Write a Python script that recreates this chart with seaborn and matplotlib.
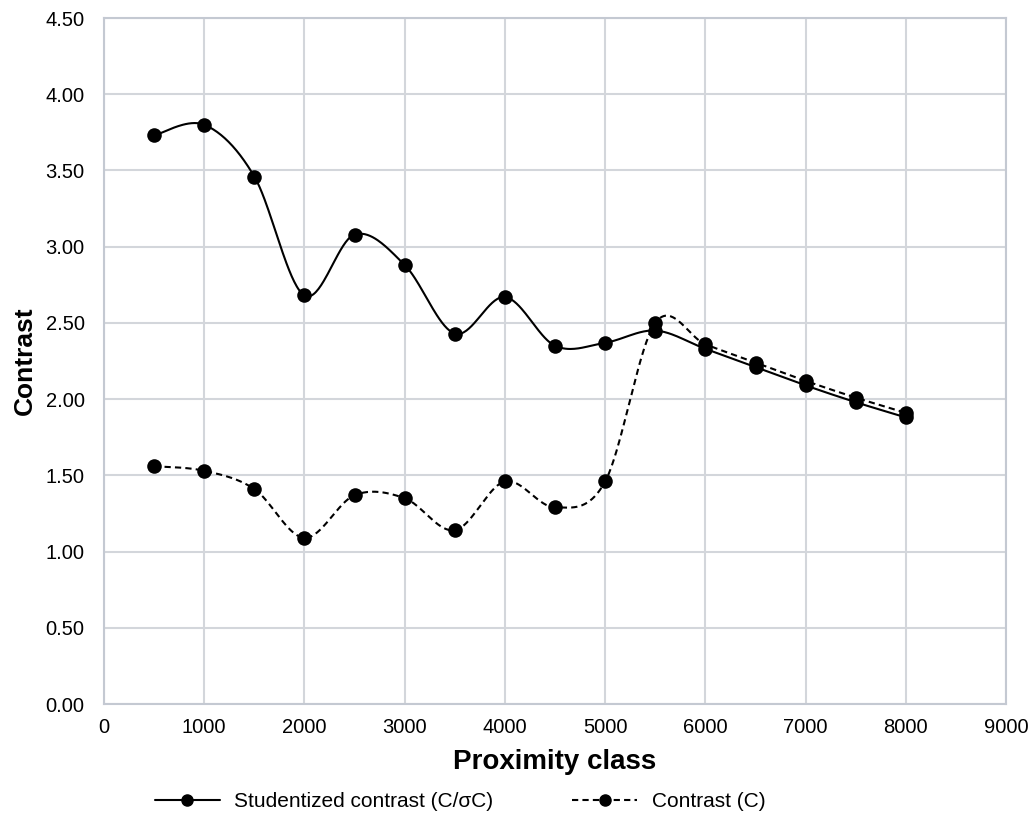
import numpy as np
import pandas as pd
import matplotlib
matplotlib.use("Agg")
import matplotlib.pyplot as plt
from matplotlib.lines import Line2D
import seaborn as sns

# Proximity classes and the two contrast series
proximity = [500, 1000, 1500, 2000, 2500, 3000, 3500, 4000,
             4500, 5000, 5500, 6000, 6500, 7000, 7500, 8000]
studentized = [3.73, 3.80, 3.46, 2.68, 3.08, 2.88, 2.43, 2.67,
               2.35, 2.37, 2.45, 2.33, 2.21, 2.09, 1.98, 1.88]
contrast = [1.56, 1.53, 1.41, 1.09, 1.37, 1.35, 1.14, 1.46,
            1.29, 1.46, 2.50, 2.36, 2.24, 2.12, 2.01, 1.91]

x_ticks = list(range(0, 9001, 1000))
y_ticks = [i * 0.5 for i in range(10)]


def smooth(xs, ys, n=40):
    """Catmull-Rom style smoothing through every data point."""
    xs = np.asarray(xs, float)
    ys = np.asarray(ys, float)
    px = np.concatenate([[xs[0]], xs, [xs[-1]]])
    py = np.concatenate([[ys[0]], ys, [ys[-1]]])
    out_x, out_y = [], []
    t = np.linspace(0, 1, n)
    for i in range(1, len(px) - 2):
        p0 = np.array([px[i], py[i]])
        p3 = np.array([px[i + 1], py[i + 1]])
        c1 = p0 + (np.array([px[i + 1], py[i + 1]]) - np.array([px[i - 1], py[i - 1]])) / 6
        c2 = p3 - (np.array([px[i + 2], py[i + 2]]) - np.array([px[i], py[i]])) / 6
        b = ((1 - t) ** 3)[:, None] * p0 + (3 * (1 - t) ** 2 * t)[:, None] * c1 \
            + (3 * (1 - t) * t ** 2)[:, None] * c2 + (t ** 3)[:, None] * p3
        out_x.extend(b[:, 0])
        out_y.extend(b[:, 1])
    return np.array(out_x), np.array(out_y)


sns.set_theme(style="white")
plt.rcParams["font.family"] = ["Liberation Sans", "DejaVu Sans"]

fig = plt.figure(figsize=(10.34, 8.21), dpi=100)
ax = fig.add_axes([0.1006, 0.1425, 0.8724, 0.8355])

grid_color = "#d3d6db"
lw = 1.5
dash = (0, (3, 2))

sx, sy = smooth(proximity, studentized)
cx, cy = smooth(proximity, contrast)
ax.plot(sx, sy, color="black", lw=lw, zorder=3)
ax.plot(cx, cy, color="black", lw=lw, linestyle=dash, zorder=3)

df = pd.DataFrame({
    "Proximity class": proximity * 2,
    "Contrast": studentized + contrast,
    "series": ["Studentized contrast (C/\u03c3C)"] * len(proximity)
              + ["Contrast (C)"] * len(proximity),
})
sns.scatterplot(data=df, x="Proximity class", y="Contrast", color="black",
                s=110, edgecolor="black", linewidth=0, legend=False,
                ax=ax, zorder=4)

ax.set_xlim(0, 9000)
ax.set_ylim(0, 4.5)
ax.set_xticks(x_ticks)
ax.set_yticks(y_ticks)
ax.set_yticklabels([f"{v:.2f}" for v in y_ticks])
ax.grid(True, color=grid_color, linewidth=1.5, zorder=0)
ax.set_axisbelow(True)
for s in ax.spines.values():
    s.set_color("#c4c9d2")
    s.set_linewidth(1.5)
ax.tick_params(axis="both", labelsize=14.5, colors="black", length=0)
ax.tick_params(axis="x", pad=10)
ax.tick_params(axis="y", pad=14)

ax.set_xlabel("Proximity class", fontsize=20, fontweight="bold",
              labelpad=9, color="black")
ax.set_ylabel("Contrast", fontsize=19, fontweight="bold",
              labelpad=6, color="black")

handles = [
    Line2D([], [], color="black", lw=lw, marker="o", markersize=8,
           label="Studentized contrast (C/\u03c3C)"),
    Line2D([], [], color="black", lw=lw, linestyle=dash, marker="o",
           markersize=8, label="Contrast (C)"),
]
leg = fig.legend(handles=handles, loc="center", bbox_to_anchor=(0.445, 0.024),
                 ncol=2, frameon=False, fontsize=15, handlelength=3.1,
                 handletextpad=0.7, columnspacing=3.8)
for t in leg.get_texts():
    t.set_color("black")

fig.savefig("out.png", dpi=100)
